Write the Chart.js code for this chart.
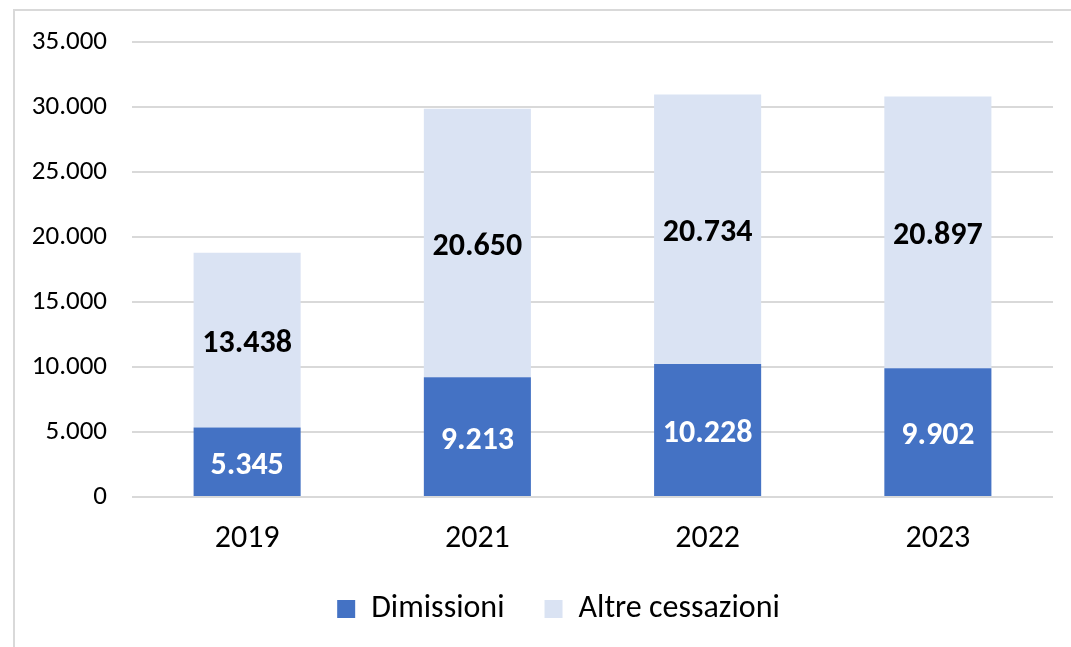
<!DOCTYPE html>
<html><head><meta charset="utf-8">
<script src="https://cdn.jsdelivr.net/npm/chart.js@4.4.1/dist/chart.umd.min.js"></script>
<style>
html,body{margin:0;padding:0;background:#fff;}
#wrap{position:relative;width:1071px;height:647px;overflow:hidden;}
#frame{position:absolute;left:13px;top:9px;width:1100px;height:700px;border-top:2px solid #d9d9d9;border-left:2px solid #d9d9d9;}
#c{position:absolute;left:0;top:0;}
</style></head>
<body>
<div id="wrap"><div id="frame"></div><canvas id="c" width="1071" height="647"></canvas></div>
<script>
const categories = ['2019','2021','2022','2023'];
const dimissioni = [5345, 9213, 10228, 9902];
const altreCessazioni = [13438, 20650, 20734, 20897];
const seriesNames = ['Dimissioni','Altre cessazioni'];
const yTicks = [0,5000,10000,15000,20000,25000,30000,35000];

const FONT = 'Carlito, Lato, "Liberation Sans", sans-serif';
function fmt(v){ return String(v).replace(/\B(?=(\d{3})+(?!\d))/g,'.'); }

const labelPlugin = {
  id:'barLabels',
  afterLayout(chart){
    const lg = chart.legend;
    if (lg) { lg.left += 64; }
  },
  afterDatasetsDraw(chart){
    const ctx = chart.ctx;
    ctx.save();
    ctx.font = 'bold 32px ' + FONT;
    ctx.textAlign = 'center';
    ctx.textBaseline = 'middle';
    chart.data.datasets.forEach((ds,i)=>{
      const meta = chart.getDatasetMeta(i);
      ctx.fillStyle = i===0 ? '#ffffff' : '#000000';
      meta.data.forEach((bar,j)=>{
        const p = bar.getProps(['x','y','base'],true);
        ctx.fillText(fmt(ds.data[j]), p.x, (p.y+p.base)/2 + 4);
      });
    });
    ctx.restore();
  }
};

new Chart(document.getElementById('c'),{
  type:'bar',
  data:{
    labels:categories,
    datasets:[
      {label:seriesNames[0],data:dimissioni,backgroundColor:'#4472C4',borderWidth:0},
      {label:seriesNames[1],data:altreCessazioni,backgroundColor:'#DAE3F3',borderWidth:0}
    ]
  },
  options:{
    responsive:false,
    animation:false,
    devicePixelRatio:1,
    layout:{padding:{top:42,left:0,right:18,bottom:12}},
    datasets:{bar:{categoryPercentage:1,barPercentage:0.465}},
    scales:{
      x:{
        stacked:true,
        grid:{display:false,drawTicks:false},
        border:{display:false},
        ticks:{color:'#000',font:{family:FONT,size:32},padding:23},
        afterFit(s){ s.height = 56; }
      },
      y:{
        stacked:true,
        min:0,max:35000,
        grid:{color:'#d9d9d9',lineWidth:2,drawTicks:false},
        border:{display:false},
        afterBuildTicks(s){ s.ticks = yTicks.map(v=>({value:v})); },
        ticks:{color:'#000',font:{family:FONT,size:27},padding:25,callback:v=>fmt(v)},
        afterFit(s){ s.width = 132; }
      }
    },
    plugins:{
      legend:{
        position:'bottom',
        labels:{color:'#000',font:{family:FONT,size:32},boxWidth:18,boxHeight:18,padding:40}
      },
      tooltip:{enabled:false}
    }
  },
  plugins:[labelPlugin]
});
</script>
</body></html>
